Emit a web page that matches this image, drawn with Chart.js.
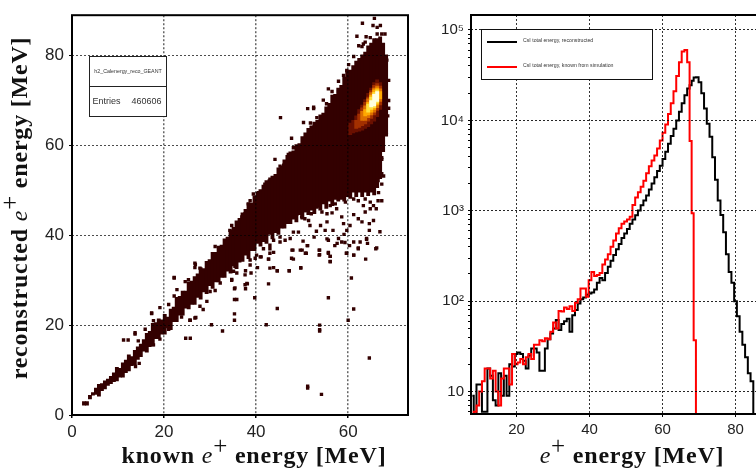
<!DOCTYPE html>
<html>
<head>
<meta charset="utf-8">
<title>CsI total energy</title>
<script src="https://cdn.jsdelivr.net/npm/chart.js@4"></script>
<style>
    html, body { margin: 0; padding: 0; background: #fff; width: 756px; height: 470px; overflow: hidden; }
    canvas { position: absolute; top: 0; }
    #scatterChart { left: 0; }
    #spectrumChart { left: 430px; }
</style>
</head>
<body>
<canvas id="scatterChart" width="420" height="470"></canvas>
<canvas id="spectrumChart" width="350" height="470"></canvas>
<script>
// left panel: 2D histogram, one floating bar per column of the dense band
const columnX = [2.6,3.25,3.9,4.55,5.2,5.85,6.5,7.15,7.8,8.45,9.1,9.75,10.4,11.05,11.7,12.35,13,13.65,14.3,14.95,15.6,16.25,16.9,17.55,18.2,18.85,19.5,20.15,20.8,21.45,22.1,22.75,23.4,24.05,24.7,25.35,26,26.65,27.3,27.95,28.6,29.25,29.9,30.55,31.2,31.85,32.5,33.15,33.8,34.45,35.1,35.75,36.4,37.05,37.7,38.35,39,39.65,40.3,40.95,41.6,42.25,42.9,43.55,44.2,44.85,45.5,46.15,46.8,47.45,48.1,48.75,49.4,50.05,50.7,51.35,52,52.65,53.3,53.95,54.6,55.25,55.9,56.55,57.2,57.85,58.5,59.15,59.8,60.45,61.1,61.75,62.4,63.05,63.7,64.35,65,65.65,66.3,66.95,67.6,68.25];
const columnLow = [2.2,2.2,3.6,4.4,4.6,4.2,5.4,5.8,6.6,7,7.4,7.6,8.4,8.4,9.4,9.8,11,11.2,12.4,13,14.2,14,15.2,15.4,17,17,18,18,19.4,19,20.8,20.8,22.2,22.2,23.8,23.6,24.6,24.6,26.2,25.8,27.4,27,28.8,28.2,29.6,29.6,30.6,30.6,32,31.6,33.2,32.6,34,34.2,35.6,34.8,36.6,36.6,38.2,37.6,38.6,38.2,40.2,39.2,40.6,40.2,41.6,41.6,42.6,42.6,43.6,43,44.6,43.6,45.2,44.6,45.6,44.8,46.2,45.6,47,46,47.6,46.6,48,47.6,48,47.6,48.6,48.2,49.6,48.6,49.6,48.6,49.6,48.8,49.6,49,50.6,52.6,58.6,62.6];
const columnHigh = [3,3,4.4,5,6,6.8,7,7.6,8,8.6,9.4,10.6,10.4,11.6,12.2,13.4,13,14.4,15.2,15.8,16.8,18.2,18.6,20.4,20.6,21.4,21.2,22.4,21.8,23.6,24,26.2,26.4,27.6,27.6,29.6,29.8,30.8,31.4,32.8,32.6,34.2,34.6,36.2,36.2,37.6,37.8,39.2,39.6,41.2,41.8,43.2,43.8,45,45.8,47.2,47.2,48.8,49.6,50.2,51.2,52.2,52.4,53.2,53.6,55,55.4,56.8,57.8,58.6,58.8,60.2,60.4,62,62.8,63.8,64.4,65.2,65.6,66.8,67.2,68.6,69.4,71.2,71.4,72.8,73.4,75.2,76.8,76.8,77.8,78.8,79.4,80.2,80.8,82.2,82.8,83.8,83.8,84.2,82.8,80.2];

// hot spot, nested contours over the same columns
const hotX = [60.45,61.1,61.75,62.4,63.05,63.7,64.35,65,65.65,66.3,66.95];
const hotALow = [62.4,62.8,63,63.2,63.4,63.8,64.2,64.8,65.4,66.4,68];
const hotAHigh = [65,65.6,66.6,68,69,70.2,71.6,72.8,74,74.6,74];
const hotBLow = [null,null,63.8,64,64.4,64.8,65.4,66,66.8,67.8,69];
const hotBHigh = [null,null,65.6,67,68.4,69.6,70.8,72.2,73.4,73.8,73.2];
const hotCLow = [null,null,null,null,65.6,65.6,66.2,66.8,67.4,68.4,69.8];
const hotCHigh = [null,null,null,null,67.6,68.8,70.4,71.8,72.8,73.2,72.6];
const hotDLow = [null,null,null,null,null,66.6,66.8,67.4,68,69,70.4];
const hotDHigh = [null,null,null,null,null,68,69.6,71.2,72.4,72.8,72];
const hotELow = [null,null,null,null,null,null,67.4,68,68.4,69.4,null];
const hotEHigh = [null,null,null,null,null,null,69.2,70.8,71.8,72.4,null];
const hotFLow = [null,null,null,null,null,null,null,68.6,68.8,69.8,null];
const hotFHigh = [null,null,null,null,null,null,null,70,71.4,72,null];
const hotColors = ['#6a1000', '#a33000', '#dd6f00', '#ffa800', '#ffe040', '#ffffe0'];

// isolated filled cells outside the band
const strayX = [64.6,51.2,51.2,54.2,60,61.2,53.8,53.8,53.8,55.7,60.7,44.6,42.2,39.7,32.7,30.3,35.3,35.3,35.3,35.8,24.7,25.7,26.9,25.7,42.7,37.7,38.1,35.3,44.6,43.8,47.2,49.7,47.7,48,50.7,51.1,49.6,53.8,53.8,55.7,56.1,56.1,63.8,61.2,59.6,66.2,62.2,64,61.2,60.3,59.3,57.6,57.1,55.4,52.6,38.9,37.7,40.3,34.7,43.8,41.1,42.7,22.2,17.3,13.7,11.2,12.2,14.6,13.8,26.8,65.7,63.1,65.4,67,66.3,61.9,63.9,62.3,63.3,45.3,47.7,51.2,52.5,50.3,55.7,57.9,66.5,66.1,63.3,64.8,62.2,61.2,63.7,63,64.6,65.5,66.9,64,64.6,62.6,64.2,59,58.6,57.5,56.5,55.4,54.3,55.4,54,53.1,51.7,50.6,59.7,59.1,60.4,55.7,56.7,55,57.9,58.6,47.4,49.2,48.1,50.2,51.2,53.7,53.7,55.7,56.1,56.1,59.7,61.2,62.2,66,50,50.9,47.8,48.1,43,43,42.7,43,44.6,47.2,49.7,
    48.9,49.9,51.4,50.6,52,53.2,53.5,56.1,57.2,59.4,61.2,62.2,63.7,64.8,65.5,67.3,66.6,67.3,67.7,35.8,37.2,38.7,39.8,40.9,41.6,43,45.2,45.2,46.3,43.8,38.7,36.5,35.4,35.1,35.8,37.6,38.7,40.1,37.6,38,35.4,34.7,44.1,45.2,46,47,48.1,48.1,49.2,43,41.9,40.5,39.4,38.7,38.3,37.6,36.9,34.7,34.3,52.5,54.6,55.3,56.5,57.9,57.2,59,59.7,60.1,61.2,63,63.7,64.8,67.3,68,66.3,51.8,53.2,68.4,68.8,68.8,68.8,68.6,68.3,67.5,67.3,66.9,67.3,66.5,67.3,31.1,26.7,26.7,27.8,25.3,24.6,22.8,22.2,22.2,21,19.1,17.3,17.7,15.9,13.7,14.4,17.7,19.1,21,23.8,25.6,26.7,28.5,27.8,29.3,31.1,32.2,30];
const strayY = [12.7,6.4,6,4.6,21.1,23.6,20,19,18.7,26.1,30.5,23.7,20.1,26.1,18.7,20.1,21.1,22.5,25.7,25.7,17.1,17.1,21.7,21.1,29.2,28.1,29.2,28.1,32.1,32.8,32.1,32.8,34.9,36.7,36,37.7,36.7,36.7,35.7,36.2,35.3,34.2,34.7,35.6,36,37.2,37.2,39.1,38.5,37.7,38.4,38.2,37.7,39.2,39.6,31.6,32.1,32.8,30.2,36.2,35.2,34.7,30.5,22.6,18,16.7,16.7,11.5,10.8,33.5,88.3,87.2,86.7,86.7,86.3,84.3,84.2,82.2,82.6,66.2,61.6,68.2,68.2,65.1,72.6,74.3,47.7,45.9,46.6,45.9,43.7,44.6,45.2,43,42.6,43.3,40.8,39.3,41.1,38.5,38.2,42.6,44.1,45.9,45,44.8,45.2,43,42.2,40.9,42.2,43.7,41.1,40.2,42.2,38.9,41.1,41.1,39.3,38.5,39.3,40.7,40.7,38.7,37.7,36.7,35.6,36,35.3,34.1,36,35.6,37,37,36.7,36,36.7,34.7,37,36,34.7,32.7,32.1,32.1,32.7,
    44.8,44.1,43.3,45.5,44.8,46.3,47.4,46.6,47,47.4,48.1,47.7,48.1,47.4,46.6,47.7,49.5,51.4,53.2,37.8,38.5,37,34.9,35.2,37,37.8,38.5,39.6,38.9,38.9,34.5,34.9,33.1,32,31.6,31.2,33.4,35.6,29,29.3,28.3,30,56.9,55.4,55.6,58,58,59.5,59.5,52.5,51.4,49.5,49.2,47.7,47,44.8,44.1,42.2,41.1,68.5,70.1,69.3,72,72,71,75.6,76.7,78,79.8,82,83,84,84.8,84.8,84.8,65,66.2,79,74.5,70,68.3,66.6,62.4,59.9,57.3,54.8,53.7,52.2,56.9,37.5,33.8,32.8,32.7,30.1,29.7,27.9,30.6,26.5,24.6,23.9,22.7,21,19.1,18.3,16.5,15.6,16.9,19.1,21.8,21.1,21.6,23.5,24.2,25.3,27.7,29.4,27.5];

// right panel: bin centres and counts, 5.65 sits on the bottom axis
const energyBins = [7.875,8.625,9.375,10.125,10.875,11.625,12.375,13.125,13.875,14.625,15.375,16.125,16.875,17.625,18.375,19.125,19.875,20.625,21.375,22.125,22.875,23.625,24.375,25.125,25.875,26.625,27.375,28.125,28.875,29.625,30.375,31.125,31.875,32.625,33.375,34.125,34.875,35.625,36.375,37.125,37.875,38.625,39.375,40.125,40.875,41.625,42.375,43.125,43.875,44.625,45.375,46.125,46.875,47.625,48.375,49.125,49.875,50.625,51.375,52.125,52.875,53.625,54.375,55.125,55.875,56.625,57.375,58.125,58.875,59.625,60.375,61.125,61.875,62.625,63.375,64.125,64.875,65.625,66.375,67.125,67.7,68.25,68.8,69.5,70.25,71,71.75,72.5,73.25,74,74.75,75.5,76.25,77,77.75,78.5,79.25,80,80.75,81.5,82.25,83,83.75,84.5,85.25,90];
const recoCounts = [9,5.65,12,12,6,6,18,15,8,7,16,9,15,9,20,19,26,27,26,22,18,25,30,30,27,17,17,30,38,44,50,62,48,56,60,64,46,70,80,94,105,110,118,122,125,135,160,180,170,205,240,280,325,375,430,500,560,630,720,800,890,1010,1150,1300,1480,1720,2000,2350,2750,3150,3750,4500,5500,6700,8100,10000,12500,15500,19000,22500,24500,27500,29800,30000,26500,20000,13500,9200,6600,3900,2200,1300,900,580,330,210,160,100,68,46,33,24,16,13,5.65,5.65];
const simCounts = [5.65,6,7,10,13,18,18,14,17,10,7,14,18,18,12,26,20,21,23,20,24,26,23,33,33,37,36,39,38,46,58,50,78,77,85,82,88,78,96,105,138,138,112,170,210,190,195,205,255,290,330,400,470,560,640,720,760,800,860,1160,1400,1600,1850,2150,2600,3100,3600,4100,4900,6000,7300,9000,11800,15500,21000,31000,44000,58000,60000,44000,5900,940,37,5.65,5.65,5.65,5.65,5.65,5.65,5.65,5.65,5.65,5.65,5.65,5.65,5.65,5.65,5.65,5.65,5.65,5.65,5.65,5.65,5.65,5.65,5.65];
const logTicks = [6,7,8,9,10,20,30,40,50,60,70,80,90,100,200,300,400,500,600,700,800,900,1000,2000,3000,4000,5000,6000,7000,8000,9000,10000,20000,30000,40000,50000,60000,70000,80000,90000,100000];
const decadeLabels = { 10: '10', 100: '10²', 1000: '10³', 10000: '10⁴', 100000: '10⁵' };

const tickFont = 'Liberation Sans';
const titleSerif = 'Liberation Serif';

function columns(xs, lows, highs) {
    return xs.map((x, i) => ({ x: x, y: [lows[i], highs[i]] })).filter(d => d.y[0] !== null);
}

function cellLayer(xs, lows, highs, color, order) {
    return { data: columns(xs, lows, highs), backgroundColor: color, barThickness: 3.2, grouped: false, order: order };
}

// draws a title made of pieces of different font, centred on (cx, cy)
function drawTitle(ctx, pieces, cx, cy, angle) {
    ctx.save();
    ctx.translate(cx, cy);
    ctx.rotate(angle);
    ctx.fillStyle = '#111';
    ctx.textBaseline = 'alphabetic';
    ctx.textAlign = 'left';
    ctx.letterSpacing = '0.8px';
    let total = 0;
    pieces.forEach(p => { ctx.font = p.font; total += ctx.measureText(p.text).width; });
    let pos = -total / 2;
    pieces.forEach(p => {
        ctx.font = p.font;
        ctx.fillText(p.text, pos, p.rise ? -p.rise : 0);
        pos += ctx.measureText(p.text).width;
    });
    ctx.restore();
}

function energyPieces(before) {
    const bold = `bold 24px "${titleSerif}"`;
    const pieces = before ? [{ text: before + ' ', font: bold }] : [];
    return pieces.concat([
        { text: 'e', font: `italic 24px "${titleSerif}"` },
        { text: '+', font: `25px "${titleSerif}"`, rise: 9 },
        { text: ' energy [MeV]', font: bold }
    ]);
}

const framePlugin = {
    id: 'frame',
    afterDraw(chart) {
        const a = chart.chartArea;
        const ctx = chart.ctx;
        ctx.save();
        ctx.strokeStyle = '#000';
        ctx.lineWidth = 2;
        ctx.strokeRect(a.left, a.top, a.right - a.left, a.bottom - a.top);
        ctx.restore();
    }
};

const scatterLabels = {
    id: 'scatterLabels',
    afterDraw(chart) {
        const ctx = chart.ctx;
        ctx.save();
        ctx.fillStyle = '#fff';
        ctx.strokeStyle = '#222';
        ctx.lineWidth = 1;
        ctx.fillRect(89.5, 56.5, 77, 60);
        ctx.strokeRect(89.5, 56.5, 77, 60);
        ctx.beginPath();
        ctx.moveTo(89.5, 86.5);
        ctx.lineTo(166.5, 86.5);
        ctx.stroke();
        ctx.fillStyle = '#333';
        ctx.textBaseline = 'middle';
        ctx.textAlign = 'center';
        ctx.font = `5.3px "${tickFont}"`;
        ctx.fillText('h2_Calenergy_reco_GEANT', 128, 71.5);
        ctx.font = `9px "${tickFont}"`;
        ctx.textAlign = 'left';
        ctx.fillText('Entries', 92.5, 102);
        ctx.textAlign = 'right';
        ctx.fillText('460606', 161.5, 102);
        ctx.restore();
        drawTitle(ctx, energyPieces('known'), 254, 463, 0);
        drawTitle(ctx, energyPieces('reconstructed'), 27, 208, -Math.PI / 2);
    }
};

const spectrumLabels = {
    id: 'spectrumLabels',
    afterDraw(chart) {
        const ctx = chart.ctx;
        const ox = 430;
        ctx.save();
        ctx.fillStyle = '#fff';
        ctx.strokeStyle = '#111';
        ctx.lineWidth = 1;
        ctx.fillRect(481.5 - ox, 29.5, 171, 50);
        ctx.strokeRect(481.5 - ox, 29.5, 171, 50);
        chart.data.datasets.forEach((ds, i) => {
            const y = i === 0 ? 42 : 67;
            ctx.strokeStyle = ds.borderColor;
            ctx.lineWidth = 2;
            ctx.beginPath();
            ctx.moveTo(487 - ox, y);
            ctx.lineTo(517 - ox, y);
            ctx.stroke();
            ctx.fillStyle = '#333';
            ctx.font = `5.2px "${tickFont}"`;
            ctx.textBaseline = 'middle';
            ctx.textAlign = 'left';
            ctx.fillText(ds.label, 523 - ox, y - 1);
        });
        ctx.restore();
        drawTitle(ctx, energyPieces(''), 632 - ox, 463, 0);
    }
};

new Chart(document.getElementById('scatterChart'), {
    type: 'bar',
    data: {
        datasets: [
            { type: 'scatter', data: strayX.map((x, i) => ({ x: x, y: strayY[i] })), backgroundColor: '#330000', borderWidth: 0, pointStyle: 'rect', pointRadius: 2.4, order: 20 },
            cellLayer(columnX, columnLow, columnHigh, '#330000', 10),
            cellLayer(hotX, hotALow, hotAHigh, hotColors[0], 6),
            cellLayer(hotX, hotBLow, hotBHigh, hotColors[1], 5),
            cellLayer(hotX, hotCLow, hotCHigh, hotColors[2], 4),
            cellLayer(hotX, hotDLow, hotDHigh, hotColors[3], 3),
            cellLayer(hotX, hotELow, hotEHigh, hotColors[4], 2),
            cellLayer(hotX, hotFLow, hotFHigh, hotColors[5], 1)
        ]
    },
    options: {
        responsive: false,
        animation: false,
        layout: { padding: { top: 11, right: 12 } },
        plugins: { legend: { display: false }, tooltip: { enabled: false } },
        scales: {
            x: {
                type: 'linear', min: 0, max: 73, offset: false,
                afterFit(scale) { scale.height = 55; },
                grid: { offset: false, z: 1, color: 'rgba(0,0,0,0.6)', lineWidth: 1.5, tickLength: 3, tickColor: '#000' },
                border: { display: false, dash: [2, 2] },
                ticks: { stepSize: 20, includeBounds: false, maxRotation: 0, padding: 4, color: '#222', font: { family: tickFont, size: 17 } }
            },
            y: {
                min: 0, max: 89,
                afterFit(scale) { scale.width = 72; },
                grid: { z: 1, color: 'rgba(0,0,0,0.7)', lineWidth: 1, tickLength: 3, tickColor: '#000' },
                border: { display: false, dash: [2, 2] },
                ticks: { stepSize: 20, includeBounds: false, padding: 5, color: '#222', font: { family: tickFont, size: 17 } }
            }
        }
    },
    plugins: [framePlugin, scatterLabels]
});

new Chart(document.getElementById('spectrumChart'), {
    type: 'line',
    data: {
        datasets: [
            { label: 'CsI total energy, reconstructed', data: energyBins.map((x, i) => ({ x: x, y: recoCounts[i] })), borderColor: '#000', borderWidth: 2, stepped: 'middle', pointRadius: 0, order: 2 },
            { label: 'CsI total energy, known from simulation', data: energyBins.map((x, i) => ({ x: x, y: simCounts[i] })), borderColor: '#ff0000', borderWidth: 2, stepped: 'middle', pointRadius: 0, order: 1 }
        ]
    },
    options: {
        responsive: false,
        animation: false,
        layout: { padding: { top: 15, right: 8 } },
        plugins: { legend: { display: false }, tooltip: { enabled: false } },
        scales: {
            x: {
                type: 'linear', min: 7.5, max: 90,
                afterFit(scale) { scale.height = 56; },
                grid: { z: 1, color: 'rgba(0,0,0,0.8)', lineWidth: 1, tickLength: 3, tickColor: '#000' },
                border: { display: false, dash: [2, 2] },
                ticks: { stepSize: 20, includeBounds: false, maxRotation: 0, padding: 4, color: '#222', font: { family: tickFont, size: 15 } },
                afterBuildTicks(scale) { scale.ticks = [20, 40, 60, 80].map(v => ({ value: v })); }
            },
            y: {
                type: 'logarithmic', min: 5.65, max: 146500,
                afterFit(scale) { scale.width = 41; },
                grid: {
                    z: 1,
                    color: ctx => decadeLabels[ctx.tick.value] ? 'rgba(0,0,0,0.85)' : 'rgba(0,0,0,0)',
                    lineWidth: 1, tickLength: 3, tickColor: '#000'
                },
                border: { display: false, dash: [2, 2] },
                afterBuildTicks(scale) { scale.ticks = logTicks.map(v => ({ value: v })); },
                ticks: {
                    autoSkip: false, padding: 4, color: '#222', font: { family: tickFont, size: 15 },
                    callback: v => decadeLabels[v] || ''
                }
            }
        }
    },
    plugins: [framePlugin, spectrumLabels]
});
</script>
</body>
</html>
